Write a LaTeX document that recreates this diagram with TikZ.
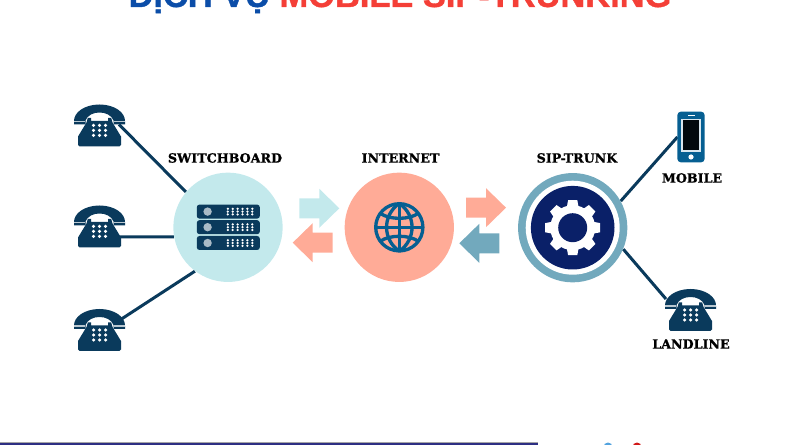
\documentclass[tikz,border=0pt]{standalone}
\usepackage{fontspec}
\setmainfont{Liberation Sans}
\newfontface\labelfont{DejaVu Serif Bold}[FakeBold=1.2]
\newfontface\titlefont{Liberation Sans Bold}[FakeBold=1.0]
\usetikzlibrary{calc,backgrounds}
\definecolor{navyline}{HTML}{0A3A5C}
\definecolor{teal}{HTML}{C3E9EC}
\definecolor{salmon}{HTML}{FFAB97}
\definecolor{steel}{HTML}{72A9BD}
\definecolor{deepnavy}{HTML}{0A2068}
\definecolor{globeblue}{HTML}{065F92}
\definecolor{titleblue}{HTML}{0B4DA8}
\definecolor{titlered}{HTML}{F43F37}
\definecolor{barblue}{HTML}{2D2F83}
\tikzset{
  x=0.75pt,y=-0.75pt,
  hub/.style={circle,inner sep=0pt,minimum size=82pt,fill=#1},
  link/.style={navyline,line width=2.25pt},
  lab/.style={font=\labelfont\fontsize{9.5}{12}\selectfont,text=black,inner sep=0pt},
  slot/.style={inner sep=0pt,minimum width=38.25pt,minimum height=32.25pt},
  phone/.pic={
    \fill[navyline] (-25.5,-4) .. controls (-26,-13) and (-15,-21) .. (0,-21)
      .. controls (15,-21) and (26,-13) .. (25.5,-4)
      -- (25.5,-1.2) -- (14,-1.2) -- (14,-5)
      .. controls (10,-15.7) and (-10,-15.7) .. (-14,-5)
      -- (-14,-1.2) -- (-25.5,-1.2) -- cycle;
    \fill[navyline] (-11.7,-7.5) -- (-8.5,-7.5) -- (-8.5,-4.5) -- (8.5,-4.5) -- (8.5,-7.5) -- (11.7,-7.5)
      -- (13,-3) -- (21.5,11) -- (21.5,19.5) .. controls (21.5,20.8) .. (20,20.8) -- (-20,20.8)
      .. controls (-21.5,20.8) .. (-21.5,19.5) -- (-21.5,11) -- (-13,-3) -- cycle;
    \fill[white!72!navyline] (-25.5,-4.6) rectangle (-14.5,-3.3);
    \fill[white!72!navyline] (14.5,-4.6) rectangle (25.5,-3.3);
    \foreach \a in {-6,0,6}
      \foreach \b in {0,5,10}
        \fill[white] (\a,\b) circle (1.75);
  },
  fatarrow/.pic={
    \fill[pic actions] (-20,-10) -- (0,-10) -- (0,-19.5) -- (20,0) -- (0,19.5) -- (0,10) -- (-20,10) -- cycle;
  },
  rack/.pic={
    \fill[navyline,rounded corners=2pt] (-31.5,-7) rectangle (31.5,7);
    \fill[white!65!navyline] (-20.7,0) circle (4.2);
    \foreach \a in {-0.5,4.4,9.3,14.2,19.1,24}
      \foreach \b in {-2.8,0,2.8}
        \fill[white] (\a,\b) circle (1.25);
  }
}
\begin{document}
\begin{tikzpicture}
\useasboundingbox (0,0) rectangle (800,445);
\clip (0,0) rectangle (800,445);
% title
\node[anchor=base,inner sep=0pt,font=\titlefont\fontsize{25.8}{28}\selectfont] (title) at (400,7)
  {\textcolor{titleblue}{DỊCH VỤ} \textcolor{titlered}{MOBILE SIP-TRUNKING}};
% hubs and slots
\node[hub=teal] (sw) at (228,227.3) {};
\node[hub=salmon] (net) at (399.3,227.3) {};
\node[hub=steel] (sip) at (572.7,227.7) {};
\node[slot] (p1) at (99.5,125.5) {};
\node[slot] (p2) at (99.5,226.5) {};
\node[slot] (p3) at (99.5,330) {};
\node[slot] (p4) at (690.5,310) {};
\node[inner sep=0pt,minimum width=20pt,minimum height=37.5pt] (mob) at (691,137) {};
% connectors
\begin{scope}[on background layer]
\draw[link] ($(p1.center)+(19.5,-1)$) -- (sw.140);
\draw[link] ($(p2.center)+(20,10.3)$) -- (sw.190);
\draw[link] ($(p3.center)+(22,-11)$) -- (sw.233);
\draw[link] (sip.29) -- (mob.west);
\draw[link] (sip.-23) -- ($(p4.center)+(-24.5,-11)$);
\end{scope}
% phones
\path (p1) pic {phone};
\path (p2) pic {phone};
\path (p3) pic {phone};
\path (p4) pic {phone};
% server
\path (sw)+(0.3,-15.7) pic {rack};
\path (sw)+(0.3,-0.1) pic {rack};
\path (sw)+(0.3,15.7) pic {rack};
% globe
\begin{scope}[shift={(net.center)},globeblue,line width=2.5pt]
  \draw (0,0) circle (23.6);
  \draw (0,-24) -- (0,24);
  \draw (-24,0) -- (24,0);
  \draw (-19,-14) .. controls (-10,-7.3) and (10,-7.3) .. (19,-14);
  \draw (-19,14) .. controls (-10,7.3) and (10,7.3) .. (19,14);
  \draw (0,-24) .. controls (-17,-12) and (-17,12) .. (0,24);
  \draw (0,-24) .. controls (17,-12) and (17,12) .. (0,24);
\end{scope}
% sip
\fill[white] (sip.center) circle (47);
\fill[deepnavy] (sip.center) circle (41.8);
\begin{scope}[shift={(sip.center)}]
  \fill[white] (0,0) circle (22.5);
  \foreach \r in {0,45,...,315}
    \fill[white,rotate=\r] (-6,-20) -- (-4.6,-27.5) -- (4.6,-27.5) -- (6,-20) -- cycle;
  \fill[deepnavy] (0,0) circle (14.5);
\end{scope}
% mobile
\fill[globeblue,rounded corners=2.5pt] (mob.north west) rectangle (mob.south east);
\fill[white!85!globeblue] ($(mob.center)+(-9.8,-18)$) rectangle ($(mob.center)+(9.8,14.7)$);
\fill[black!85!navyline] ($(mob.center)+(-7.6,-16.5)$) rectangle ($(mob.center)+(7.6,13)$);
\fill[white] ($(mob.center)+(0,20)$) circle (2.6);
\fill[white] ($(mob.center)+(-3.5,-21.8)$) rectangle ($(mob.center)+(3.5,-20.6)$);
% arrows
\path (319.3,208.3) pic[fill=teal] {fatarrow};
\path (312.7,242.7) pic[fill=salmon,xscale=-1] {fatarrow};
\path (486,207.7) pic[fill=salmon] {fatarrow};
\path (479.3,243.3) pic[fill=steel,xscale=-1] {fatarrow};
% labels
\node[lab] (l1) at (225,158) {SWITCHBOARD};
\node[lab] (l2) at (400.5,158) {INTERNET};
\node[lab] (l3) at (577,158) {SIP-TRUNK};
\node[lab] (l4) at (692,178) {MOBILE};
\node[lab] (l5) at (691,344) {LANDLINE};
% bottom strip
\fill[black!35] (0,442.3) rectangle (538,443.2);
\fill[barblue] (0,443.2) rectangle (538,445);
\fill[cyan!70!blue!70] (608,447) circle (4.5);
\fill[red!80!black!90] (637,447) circle (4.5);
\end{tikzpicture}
\end{document}
